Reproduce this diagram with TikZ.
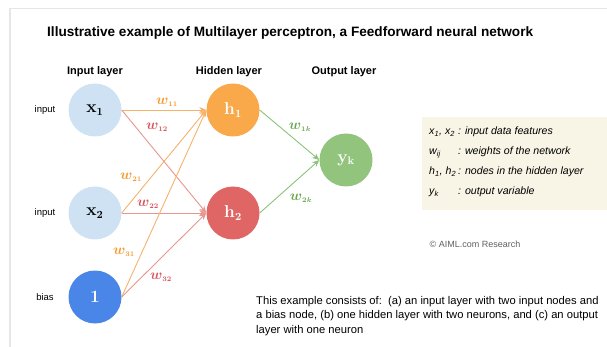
\documentclass[tikz,border=0pt]{standalone}
\usepackage{amsmath}
\usepackage[no-math]{fontspec}
\setmainfont{Liberation Sans}
\usetikzlibrary{arrows.meta}
\definecolor{inpc}{HTML}{CFE2F3}
\definecolor{biasc}{HTML}{4A86E8}
\definecolor{hone}{HTML}{F9A84A}
\definecolor{htwo}{HTML}{E06666}
\definecolor{outc}{HTML}{93C47D}
\definecolor{orl}{HTML}{F6B26B}
\definecolor{rdl}{HTML}{E6968E}
\definecolor{grl}{HTML}{8BC37A}
\definecolor{orw}{HTML}{F59A2E}
\definecolor{rdw}{HTML}{D9545A}
\definecolor{grw}{HTML}{6AA84F}
\definecolor{legbg}{HTML}{F8F4E6}
\definecolor{framec}{HTML}{E6E6E6}
\newcommand{\wlb}[1]{$\boldsymbol{w}_{\scriptscriptstyle\boldsymbol{#1}}$}
\tikzset{
  neuron/.style={circle, minimum size=53pt, inner sep=0pt, draw=none, font=\fontsize{16}{16}\selectfont},
  conn/.style={line width=0.9pt, -{Stealth[length=7pt,width=6pt]}},
  wlab/.style={font=\fontsize{15}{15}\selectfont},
  side/.style={font=\fontsize{9.5}{10}\selectfont, anchor=center},
  head/.style={font=\fontsize{11}{12}\selectfont\bfseries},
  leg/.style={font=\fontsize{10.6}{11}\selectfont\itshape, anchor=base west, inner sep=0pt}
}
\begin{document}
\begin{tikzpicture}[x=1pt,y=-1pt]
\path[use as bounding box] (0,0) rectangle (607,347);
% frame
\draw[framec, line width=1.6pt] (10,347) -- (10,8.5) -- (607,8.5);
% title
\node[anchor=west, inner sep=0pt, font=\fontsize{13.6}{14}\selectfont\bfseries] (title) at (47,33)
  {Illustrative example of Multilayer perceptron, a Feedforward neural network};
% headings
\node[head] (hin) at (95,72) {Input layer};
\node[head] (hhid) at (229,72) {Hidden layer};
\node[head] (hout) at (344,72) {Output layer};
% side labels
\node[side] (s1) at (45,110) {input};
\node[side] (s2) at (45,213) {input};
\node[side] (s3) at (45,297) {bias};
% neurons
\node[neuron, fill=inpc] (x1) at (95,110) {$\mathbf{x}_{\mathbf{1}}$};
\node[neuron, fill=inpc] (x2) at (95,213) {$\mathbf{x}_{\mathbf{2}}$};
\node[neuron, fill=biasc, text=white] (b) at (95,297) {$\mathbf{1}$};
\node[neuron, fill=hone, text=white] (h1) at (233,110) {$\mathbf{h}_{\mathbf{1}}$};
\node[neuron, fill=htwo, text=white] (h2) at (233,213) {$\mathbf{h}_{\mathbf{2}}$};
\node[neuron, fill=outc, text=white] (y) at (346,160) {$\mathbf{y}_{\mathbf{k}}$};
% connectors
\draw[conn, orl] (x1.east) -- (h1.west);
\draw[conn, rdl] (x1.east) -- (h2.west);
\draw[conn, orl] (x2.east) -- (h1.west);
\draw[conn, rdl] (x2.east) -- (h2.west);
\draw[conn, orl] (b.east) -- (h1.west);
\draw[conn, rdl] (b.east) -- (h2.west);
\draw[conn, grl] (h1.east) -- (y.west);
\draw[conn, grl] (h2.east) -- (y.west);
% weight labels
\node[wlab, text=orw] (w11) at (167,102) {\wlb{11}};
\node[wlab, text=rdw] (w12) at (157,127) {\wlb{12}};
\node[wlab, text=orw] (w21) at (131,177) {\wlb{21}};
\node[wlab, text=rdw] (w22) at (148,204) {\wlb{22}};
\node[wlab, text=orw] (w31) at (124,252) {\wlb{31}};
\node[wlab, text=rdw] (w32) at (161,277) {\wlb{32}};
\node[wlab, text=grw] (w1k) at (300,127) {\wlb{1k}};
\node[wlab, text=grw] (w2k) at (301,198) {\wlb{2k}};
% legend
\fill[legbg] (422,117) rectangle (607,210);
\node[leg] (l1) at (429,135) {x\textsubscript{1}, x\textsubscript{2}};
\node[leg] (l1b) at (458,135) {: input data features};
\node[leg] (l2) at (429,155) {w\textsubscript{ij}};
\node[leg] (l2b) at (458,155) {: weights of the network};
\node[leg] (l3) at (429,175) {h\textsubscript{1}, h\textsubscript{2}};
\node[leg] (l3b) at (458,175) {: nodes in the hidden layer};
\node[leg] (l4) at (429,195) {y\textsubscript{k}};
\node[leg] (l4b) at (458,195) {: output variable};
% copyright
\node[text=gray!75!black, font=\fontsize{9}{10}\selectfont] (copy) at (475,244) {© AIML.com Research};
% description
\node[anchor=north west, inner sep=0pt, align=left, font=\fontsize{11.2}{14.5}\selectfont] (desc) at (256,296)
  {This example consists of:\ \ (a) an input layer with two input nodes and\\
   a bias node, (b) one hidden layer with two neurons, and (c) an output\\
   layer with one neuron};
\end{tikzpicture}
\end{document}
